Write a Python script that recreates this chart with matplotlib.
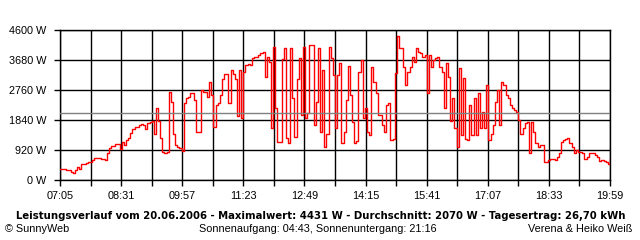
import matplotlib
matplotlib.use("Agg")
import matplotlib.pyplot as plt
import numpy as np

# ---- data ----
start_label = "07:05"
step_minutes = 3
power_w = [
    327, 327, 327, 300, 300, 255, 210, 300, 410, 340,
    480, 480, 510, 560, 560, 613, 685, 685, 665, 634,
    634, 613, 818, 990, 1050, 1050, 1100, 1110, 950, 1175,
    1080, 1226, 1280, 1430, 1563, 1635, 1635, 1700, 1710, 1690,
    1563, 1737, 1780, 1820,
    1400, 2200, 1800, 1300, 870, 818, 860, 2700, 2400, 1400,
    1073, 1022, 970, 880, 2350, 2500, 2550, 2660, 2660, 2450,
    1480, 1480, 2760, 2700, 2700, 2550, 3000, 2600, 1635, 2300,
    2350, 2600, 3100, 3240, 3240, 2350, 3370, 3240, 3100, 1950,
    3370, 1890, 3300,
    3525, 3550, 3525, 3730, 3780, 3760, 3830, 3900, 3935, 3170,
    3780, 3630, 1580, 4090, 2200, 1175, 1175, 3700, 4040, 1300,
    1125, 4040, 2500, 1330, 3100, 3730, 1990, 4090, 1890, 2045,
    4140, 4140, 1700, 2400, 4040, 1480, 3370, 1022, 1400, 4090,
    3730, 3220, 1580,
    3220, 3580, 1125, 1480, 2450, 3500, 2600, 1790, 1125, 1200,
    3320, 3680, 1900, 2200, 1480, 1380, 3475, 3000, 2660, 1990,
    2000, 1690, 1480, 2300, 2350, 1226, 1260, 3270, 4431, 4040,
    4040, 3475, 2910, 3320, 3475, 3780, 3630, 4040, 3935, 3900,
    3780, 3830, 2660,
    3830, 3475, 3680, 3730, 3780, 3475, 3300, 2200, 3580, 3150,
    1800, 2500, 1580, 1020, 3420, 1380, 3120, 1260, 1226, 2300,
    1380, 2500, 1380, 2660, 1600, 2100, 1580, 2910, 1226, 1400,
    1690, 2400, 2750, 1690, 3015, 2910, 2600, 2500, 2300, 2200,
    2146, 2100, 1840,
    1400, 1600, 1740, 1790, 820, 1790, 1480, 1125, 1022, 1070,
    1070, 560, 560, 613, 640, 640, 600, 715, 818, 1175,
    1226, 1250, 1300, 1125, 1022, 818, 920, 870, 870, 818,
    644, 715, 818, 818, 818, 766, 715, 582, 600, 582,
    542, 480, 634,
]
average_w = 2070
y_ticks = [0, 920, 1840, 2760, 3680, 4600]
x_tick_labels = ["07:05", "08:31", "09:57", "11:23", "12:49", "14:15",
                 "15:41", "17:07", "18:33", "19:59"]
title_text = ("Leistungsverlauf vom 20.06.2006 - Maximalwert: 4431 W - "
              "Durchschnitt: 2070 W - Tagesertrag: 26,70 kWh")
left_note = "\u00a9 SunnyWeb"
center_note = "Sonnenaufgang: 04:43, Sonnenuntergang: 21:16"
right_note = "Verena & Heiko Wei\u00df"

# ---- figure ----
W, H = 640, 240
fig = plt.figure(figsize=(W / 100, H / 100), dpi=100)
fig.patch.set_facecolor("white")


def fx(px):
    return px / W


def fy(py):
    return 1 - py / H


ax = fig.add_axes([fx(60), fy(180), fx(610) - fx(60), fy(30) - fy(180)])
ax.set_facecolor("white")

minutes = np.arange(len(power_w)) * step_minutes
total = minutes[-1]
ax.set_xlim(0, total)
ax.set_ylim(0, y_ticks[-1])

# grid
grid_step = total / (2 * (len(x_tick_labels) - 1))
grid_x = np.arange(0, 2 * (len(x_tick_labels) - 1) + 1) * grid_step
for gx in grid_x:
    ax.axvline(gx, color="black", lw=1.0, zorder=1)
for gy in y_ticks:
    ax.axhline(gy, color="black", lw=1.0, zorder=1)

ax.plot(minutes, power_w, color="#ff0000", lw=1.0, drawstyle="steps-post",
        zorder=3, clip_on=True)
ax.axhline(average_w, color="#808080", lw=1.0, zorder=4)

ax.set_yticks(y_ticks)
ax.set_yticklabels([f"{v} W" for v in y_ticks])
ax.set_xticks(grid_x)
labels = []
for i in range(len(grid_x)):
    labels.append(x_tick_labels[i // 2] if i % 2 == 0 else "")
ax.set_xticklabels(labels)

for sp in ax.spines.values():
    sp.set_color("black")
    sp.set_linewidth(1.0)

ax.tick_params(axis="both", direction="out", length=4, width=1.0,
               color="black", labelsize=7.8, labelcolor="black")
ax.tick_params(axis="y", pad=6)
ax.tick_params(axis="x", pad=4)
for lab in ax.get_xticklabels() + ax.get_yticklabels():
    lab.set_fontfamily("Liberation Sans")

# texts
t = fig.text(fx(321), fy(216), title_text, ha="center", va="center",
             fontsize=8, fontweight="bold", family="DejaVu Sans", color="black")
fig.canvas.draw()
r = fig.canvas.get_renderer()
wpx = t.get_window_extent(r).width
t.set_fontsize(8 * 608 / wpx)

fig.text(fx(5), fy(229), left_note, ha="left", va="center", fontsize=7.8,
         family="Liberation Sans", color="black")
fig.text(fx(318), fy(229), center_note, ha="center", va="center", fontsize=7.8,
         family="Liberation Sans", color="black")
fig.text(fx(632), fy(229), right_note, ha="right", va="center", fontsize=7.8,
         family="Liberation Sans", color="black")

fig.savefig("out.png", dpi=100, facecolor="white")
